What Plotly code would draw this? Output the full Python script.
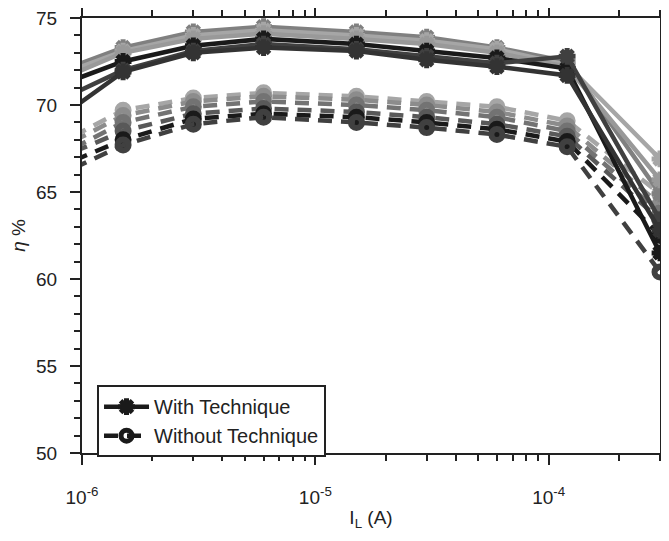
import plotly.graph_objects as go

# Load current (A); first point lies just left of the visible range
current = [7.5e-7, 1.5e-6, 3e-6, 6e-6, 1.5e-5, 3e-5, 6e-5, 1.2e-4, 3e-4]

# With technique (solid, asterisk markers)
with_s1 = [71.8, 73.3, 74.2, 74.5, 74.2, 73.9, 73.3, 72.5, 64.9]
with_s2 = [71.6, 73.1, 74.0, 74.3, 74.0, 73.7, 73.2, 72.3, 66.9]
with_s3 = [71.3, 73.0, 73.8, 74.1, 73.8, 73.5, 73.0, 72.2, 65.7]
with_s4 = [71.0, 72.5, 73.4, 73.8, 73.5, 73.1, 72.7, 72.1, 61.5]
with_s5 = [70.1, 72.0, 73.1, 73.5, 73.2, 72.8, 72.4, 72.8, 63.4]
with_s6 = [69.0, 71.9, 73.0, 73.3, 73.1, 72.6, 72.2, 71.7, 62.8]

# Without technique (dashed, circle markers)
without_s1 = [67.6, 69.7, 70.4, 70.7, 70.5, 70.2, 69.9, 69.1, 64.9]
without_s2 = [67.3, 69.4, 70.2, 70.5, 70.3, 70.0, 69.6, 68.8, 64.3]
without_s3 = [66.9, 69.0, 69.9, 70.2, 70.0, 69.7, 69.3, 68.5, 63.8]
without_s4 = [66.8, 68.5, 69.5, 69.8, 69.6, 69.3, 68.9, 68.2, 63.4]
without_s5 = [66.3, 68.0, 69.2, 69.5, 69.3, 69.0, 68.6, 67.9, 62.5]
without_s6 = [65.8, 67.7, 68.9, 69.3, 69.0, 68.7, 68.3, 67.6, 60.4]

x_tickvals = [1e-6, 1e-5, 1e-4]
x_ticktext = ["10<sup>-6</sup>", "10<sup>-5</sup>", "10<sup>-4</sup>"]

with_series = [with_s1, with_s2, with_s3, with_s4, with_s5, with_s6]
without_series = [without_s1, without_s2, without_s3, without_s4, without_s5, without_s6]

with_colors = ["#808080", "#a6a6a6", "#999999", "#1a1a1a", "#404040", "#333333"]
without_colors = ["#a6a6a6", "#8c8c8c", "#737373", "#595959", "#1a1a1a", "#404040"]

FONT = "Liberation Sans, Arial, sans-serif"

fig = go.Figure()

for i, (vals, col) in enumerate(zip(without_series, without_colors)):
    fig.add_trace(go.Scatter(
        x=current, y=vals, mode="lines+markers",
        name="Without Technique", showlegend=(i == 4),
        legendrank=2,
        line=dict(color=col, width=4.5, dash="14px,9px"),
        marker=dict(symbol="circle-open", size=11, color=col, line=dict(width=6, color=col)),
    ))

for i, (vals, col) in enumerate(zip(with_series, with_colors)):
    fig.add_trace(go.Scatter(
        x=current, y=vals, mode="lines+markers",
        name="With Technique", showlegend=(i == 3),
        legendrank=1,
        line=dict(color=col, width=4.5),
        marker=dict(symbol="asterisk-open", size=14, color=col, line=dict(width=5, color=col)),
    ))

axis_common = dict(
    showline=True, linewidth=2, linecolor="#222222", mirror="ticks",
    ticks="outside", tickwidth=2, tickcolor="#222222", ticklen=10,
    showgrid=False, zeroline=False, automargin=False,
    ticklabeloverflow="allow",
    tickfont=dict(family=FONT, size=19, color="#222222"),
)

fig.update_xaxes(
    type="log", range=[-6, -3.5229],
    tickvals=x_tickvals, ticktext=x_ticktext,
    ticklabelstandoff=16,
    minor=dict(ticks="outside", ticklen=6, tickwidth=2, tickcolor="#222222", dtick="D1", showgrid=False),
    title=dict(text="I<sub>L</sub> (A)", font=dict(family=FONT, size=19, color="#222222"), standoff=4),
    **axis_common,
)
fig.update_yaxes(
    range=[50, 75], dtick=5, tick0=50,
    ticklabelstandoff=9,
    minor=dict(ticks="outside", ticklen=6, tickwidth=2, tickcolor="#222222", dtick=1, showgrid=False),
    title=dict(text="<i>η</i> %", font=dict(family=FONT, size=19, color="#222222"), standoff=8),
    **axis_common,
)

# page body adds an 8px offset, so the figure is sized to fit the viewport
fig.update_layout(
    width=661, height=525,
    margin=dict(l=74, r=9, t=10, b=80),
    paper_bgcolor="white", plot_bgcolor="white",
    legend=dict(
        x=0.026, y=0.156, xanchor="left", yanchor="top",
        bgcolor="white", bordercolor="#222222", borderwidth=2,
        font=dict(family=FONT, size=20, color="#222222"),
        tracegroupgap=0, itemwidth=45,
    ),
)

fig.write_html("out.html")
